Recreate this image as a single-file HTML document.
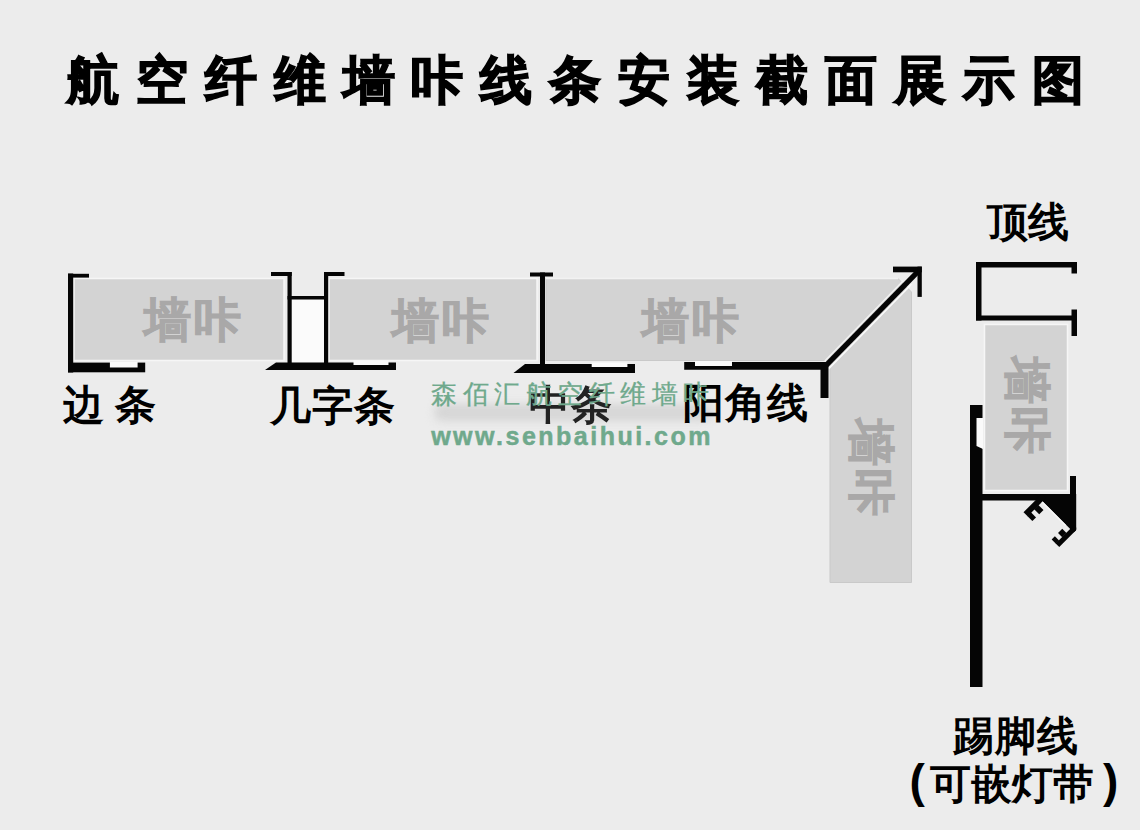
<!DOCTYPE html>
<html><head><meta charset="utf-8">
<style>
html,body{margin:0;padding:0;}
body{width:1140px;height:830px;background:#ececec;position:relative;overflow:hidden;font-family:"Liberation Sans",sans-serif;}
.t{position:absolute;white-space:nowrap;line-height:1;color:#000;}
#title{left:67px;top:54px;font-size:52px;font-weight:700;letter-spacing:16.9px;-webkit-text-stroke:1.5px #000;}
.lb{font-size:41px;font-weight:700;letter-spacing:1px;}
.pt{font-size:47px;font-weight:700;color:#a9a8a8;letter-spacing:3px;-webkit-text-stroke:1px #a9a8a8;}
svg{position:absolute;left:0;top:0;}
.wm{color:#6fa98c;}
</style></head><body>
<div class="t" id="title">航空纤维墙咔线条安装截面展示图</div>

<svg width="1140" height="830" viewBox="0 0 1140 830">
  <defs><clipPath id="ledclip"><rect x="1000" y="494" width="76.2" height="70"/></clipPath></defs>
  <!-- panels -->
  <g fill="#d3d3d3" stroke="#f6f6f6" stroke-width="1.5">
    <rect x="74" y="278.5" width="210" height="82"/>
    <rect x="329" y="278.5" width="208" height="82"/>
    <rect x="984.5" y="324.5" width="83" height="166"/>
  </g>
  <path d="M546 278.5 H898 L911.5 292 V582.5 H830 V360.5 H546 Z" fill="#d3d3d3" stroke="#c9c9c9" stroke-width="1"/>
  <line x1="546" y1="278.5" x2="898" y2="278.5" stroke="#f2f2f2" stroke-width="1.5"/>
  <line x1="828.5" y1="368.9" x2="911.5" y2="284.2" stroke="#fafafa" stroke-width="1.6"/>
  <line x1="824.8" y1="361" x2="903" y2="281" stroke="#f4f4f4" stroke-width="1.3"/>
  <!-- hat white fill -->
  <rect x="291.5" y="299.5" width="33" height="63" fill="#fbfbfb"/>
  <g fill="#050505">
    <!-- 边条 -->
    <rect x="68" y="273.5" width="5.2" height="99"/>
    <rect x="68" y="273.8" width="21" height="3.8"/>
    <rect x="68" y="362.6" width="77.2" height="9.7"/>
    <!-- 几字条 -->
    <path d="M265 370 L276 362.5 H396 V370 Z"/>
    <rect x="287.5" y="272" width="4.2" height="91"/>
    <rect x="271" y="272" width="20.7" height="4"/>
    <rect x="287.5" y="296" width="40.5" height="3.5"/>
    <rect x="324" y="272" width="4.2" height="91"/>
    <rect x="324" y="272" width="20.5" height="4"/>
    <!-- 中条 -->
    <rect x="530" y="272.5" width="23" height="4"/>
    <rect x="540" y="272.5" width="5" height="92"/>
    <path d="M513.5 373 L525 364 H635 V373 Z"/>
    <!-- 阳角线 -->
    <path d="M684.2 362 H828.5 V398 H820.5 V369.8 H684.2 Z"/>
    <path d="M821.8 366 L917.5 268.3 L921.2 272 L825.5 369.7 Z"/>
    <rect x="893" y="266.6" width="28.8" height="5.7"/>
    <rect x="917.5" y="266.6" width="4.3" height="30.3"/>
    <!-- 顶线 -->
    <rect x="976" y="262" width="101" height="5.5"/>
    <rect x="976" y="262" width="5.5" height="58.5"/>
    <rect x="976" y="315.5" width="101" height="5"/>
    <rect x="1071.5" y="262" width="5.5" height="11.5"/>
    <rect x="1071.5" y="309.5" width="5.5" height="26.5"/>
    <!-- 踢脚线 -->
    <rect x="970" y="405" width="12.5" height="282"/>
    <rect x="982" y="494" width="93" height="6.5"/>
    <rect x="1070" y="476" width="6" height="53"/>
    <g clip-path="url(#ledclip)">
      <g transform="translate(1060.3 545.9) rotate(-45)">
        <rect x="19" y="-60" width="40" height="60"/>
        <rect x="-1.5" y="-5" width="26" height="5"/>
        <rect x="-1.5" y="-10.7" width="4.5" height="6"/>
        <rect x="7.5" y="-10.7" width="6" height="6"/>
        <rect x="-2.2" y="-49.8" width="26" height="5.8"/>
        <rect x="-2.2" y="-44.5" width="5.2" height="7.2"/>
        <rect x="7.5" y="-44.5" width="6" height="7.2"/>
      </g>
    </g>
  </g>
  <!-- white notches -->
  <g fill="#fafafa">
    <rect x="109.9" y="362" width="27.7" height="5.5"/>
    <rect x="353.5" y="360.5" width="35" height="4.5"/>
    <rect x="591.7" y="362.5" width="35.7" height="4.5"/>
    <rect x="695" y="361" width="37" height="5"/>
    <path d="M976.5 418 H983 V449 L976.5 446 Z"/>
  </g>
  <line x1="0" y1="-44" x2="0" y2="-10.7" transform="translate(1060.3 545.9) rotate(-45) translate(18.2 0)" stroke="#f8f8f8" stroke-width="1.5"/>
</svg>

<!-- panel texts -->
<div class="t pt" style="left:144px;top:296px">墙咔</div>
<div class="t pt" style="left:392px;top:297px">墙咔</div>
<div class="t pt" style="left:642px;top:297px">墙咔</div>
<!-- rotated panel texts (90deg cw) -->
<div class="t pt" style="left:823px;top:445px;transform:rotate(90deg);transform-origin:49px 23px">墙咔</div>
<div class="t pt" style="left:978.5px;top:383px;transform:rotate(90deg);transform-origin:49px 23px">墙咔</div>

<!-- labels -->
<div style="position:absolute;left:434px;top:404px;width:278px;height:17px;background:#d6d6d6;filter:blur(4px);border-radius:8px"></div>
<div class="t lb" style="left:63px;top:385px;letter-spacing:0">边 条</div>
<div class="t lb" style="left:270px;top:386px">几字条</div>
<div class="t lb" style="left:529px;top:384.5px;filter:blur(0.6px);color:#222">中条</div>
<div class="t lb" style="left:683px;top:383px">阳角线</div>
<div class="t lb" style="left:987px;top:202px;letter-spacing:0">顶线</div>
<div class="t lb" style="left:952.5px;top:715.5px">踢脚线</div>
<div class="t" style="left:909.6px;top:758px;font-size:46px;font-weight:700">(</div>
<div class="t lb" style="left:929.5px;top:764px;letter-spacing:0">可嵌灯带</div>
<div class="t" style="left:1103px;top:758px;font-size:46px;font-weight:700">)</div>

<!-- watermark -->
<div class="t wm" style="left:431px;top:381px;font-size:26px;font-weight:400;letter-spacing:5.5px;-webkit-text-stroke:0.3px #6fa98c">森佰汇航空纤维墙咔</div>
<div class="t wm" style="left:431.2px;top:424px;font-size:25px;font-weight:700;letter-spacing:2.49px;-webkit-text-stroke:0.5px #6fa98c">www.senbaihui.com</div>
</body></html>
